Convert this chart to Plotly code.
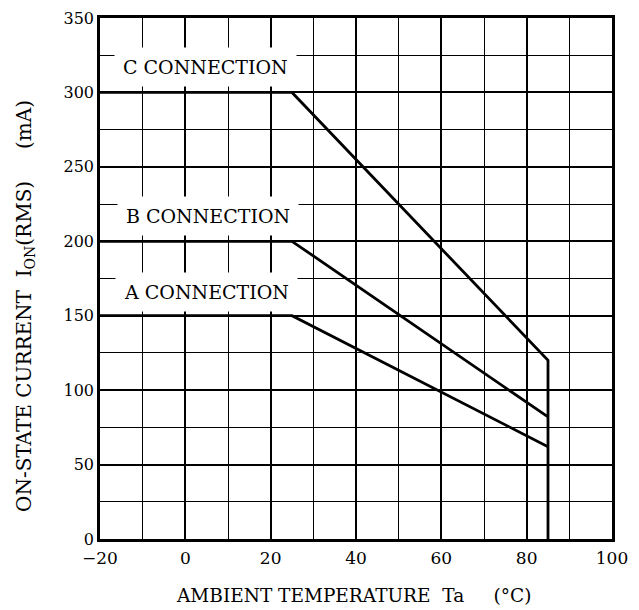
import plotly.graph_objects as go

# Data
temp_c = [-20, 25, 85, 85]
curr_c = [300, 300, 120, 0]
temp_b = [-20, 25, 85]
curr_b = [200, 200, 82]
temp_a = [-20, 25, 85]
curr_a = [150, 150, 62]

labels = ["C CONNECTION", "B CONNECTION", "A CONNECTION"]
label_x = [4.8, 5.3, 4.9]
label_y = [317, 217, 166]

x_ticks = [-20, 0, 20, 40, 60, 80, 100]
x_ticktext = ["\u221220", "0", "20", "40", "60", "80", "100"]
y_ticks = [0, 50, 100, 150, 200, 250, 300, 350]

FONT = "DejaVu Serif"
SP = "&nbsp;"

fig = go.Figure()
for xs, ys in [(temp_c, curr_c), (temp_b, curr_b), (temp_a, curr_a)]:
    fig.add_trace(go.Scatter(x=xs, y=ys, mode="lines",
                             line=dict(color="black", width=2.8),
                             showlegend=False, hoverinfo="skip"))

for t, x, y in zip(labels, label_x, label_y):
    fig.add_annotation(x=x, y=y, text=t, showarrow=False,
                       font=dict(family=FONT, size=19, color="black"),
                       bgcolor="white", borderpad=8)

W, H = 631, 602
ML, MR, MT, MB = 92, 27, 10, 71
pw, ph = W - ML - MR, H - MT - MB

ytitle = "ON-STATE CURRENT" + SP * 2 + "I<sub>ON</sub>(RMS)" + SP * 5 + "(mA)"
fig.add_annotation(xref="paper", yref="paper",
                   x=(17 - ML) / pw, y=(H - MB - 298) / ph,
                   text=ytitle, textangle=-90, showarrow=False,
                   xanchor="center", yanchor="middle",
                   font=dict(family=FONT, size=20, color="black"))
xtitle = "AMBIENT TEMPERATURE" + SP * 2 + "Ta" + SP * 5 + "(°C)"
fig.add_annotation(xref="paper", yref="paper",
                   x=(345.5 - ML) / pw, y=-(587 - (H - MB)) / ph,
                   text=xtitle, showarrow=False,
                   xanchor="center", yanchor="middle",
                   font=dict(family=FONT, size=18.5, color="black"))

fig.update_xaxes(range=[-20, 100], tickvals=x_ticks, ticktext=x_ticktext,
                 showgrid=True, gridcolor="black", gridwidth=1.8,
                 minor=dict(dtick=10, tick0=0, showgrid=True, gridcolor="black", gridwidth=1.3),
                 showline=True, linecolor="black", linewidth=2.5, mirror=True,
                 zeroline=False, ticks="", ticklabelstandoff=2, automargin=False,
                 ticklabeloverflow="allow",
                 tickfont=dict(family=FONT, size=17, color="black"))
fig.update_yaxes(range=[0, 350], tickvals=y_ticks,
                 showgrid=True, gridcolor="black", gridwidth=1.8,
                 minor=dict(dtick=25, tick0=0, showgrid=True, gridcolor="black", gridwidth=1.3),
                 showline=True, linecolor="black", linewidth=2.5, mirror=True,
                 zeroline=False, ticks="", ticklabelstandoff=0, automargin=False,
                 ticklabeloverflow="allow",
                 tickfont=dict(family=FONT, size=16, color="black"))

fig.update_layout(width=W, height=H, margin=dict(l=ML, r=MR, t=MT, b=MB),
                  plot_bgcolor="white", paper_bgcolor="white")

fig.write_html("out.html")
